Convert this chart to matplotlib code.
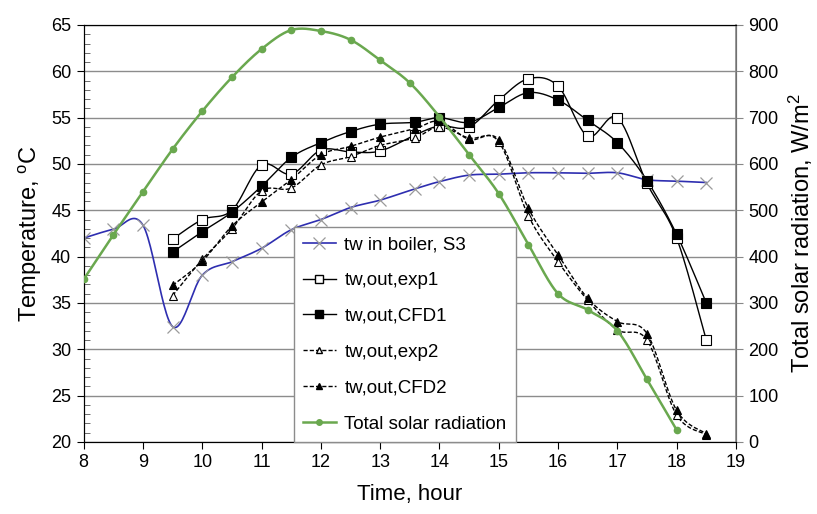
import numpy as np
import matplotlib.pyplot as plt
from matplotlib.lines import Line2D

plt.rcParams['font.family'] = ['Liberation Sans', 'DejaVu Sans']
plt.rcParams['mathtext.default'] = 'regular'

# time axis for the water temperature series (hour)
t_boiler = [8, 8.5, 9, 9.5, 10, 10.5, 11, 11.5, 12, 12.5, 13, 13.58, 14, 14.5,
            15, 15.5, 16, 16.5, 17, 17.5, 18, 18.5]
tw_boiler = [42.0, 42.95, 43.4, 32.45, 38.0, 39.45, 40.9, 42.9, 44.0, 45.3, 46.1, 47.3,
             48.1, 48.8, 48.9, 49.05, 49.05, 49.0, 49.05, 48.3, 48.15, 48.0]

t_out = [9.5, 10, 10.5, 11, 11.5, 12, 12.5, 13, 13.58, 14, 14.5, 15, 15.5, 16,
         16.5, 17, 17.5, 18, 18.5]
tw_exp1 = [41.9, 44.0, 45.0, 49.9, 48.9, 51.5, 51.3, 51.4, 53.1, 54.1, 54.0, 56.9,
           59.2, 58.4, 53.0, 55.0, 47.9, 42.0, 31.0]
tw_cfd1 = [40.5, 42.7, 44.8, 47.6, 50.7, 52.3, 53.5, 54.3, 54.5, 55.0, 54.5, 56.1,
           57.7, 56.9, 54.7, 52.3, 48.2, 42.4, 35.0]
tw_exp2 = [35.8, 39.7, 43.0, 47.1, 47.4, 49.9, 50.8, 52.0, 52.8, 54.0, 52.8, 52.4,
           44.4, 39.45, 35.3, 32.1, 31.0, 22.9, 20.8]
tw_cfd2 = [36.9, 39.5, 43.3, 45.9, 48.3, 51.0, 51.9, 52.9, 53.8, 54.6, 52.65, 52.6,
           45.2, 40.2, 35.5, 33.0, 31.7, 23.4, 20.9]

# total solar radiation (W/m2)
t_sun = [8, 8.5, 9, 9.5, 10, 10.5, 11, 11.5, 12, 12.5, 13, 13.5, 14, 14.5, 15,
         15.5, 16, 16.5, 17, 17.5, 18]
radiation = [351, 447, 540, 632, 714, 787, 848, 889, 887, 868, 824, 775, 702, 620,
             536, 426, 320, 285, 240, 135, 26]


def smooth(x, y, n=25):
    # excel style smoothed line (bezier through the points)
    p = np.column_stack([x, y]).astype(float)
    p = np.vstack([p[0], p, p[-1]])
    segs = []
    for i in range(1, len(p) - 2):
        p0, p1, p2, p3 = p[i - 1], p[i], p[i + 1], p[i + 2]
        c1 = p1 + (p2 - p0) / 6
        c2 = p2 - (p3 - p1) / 6
        s = np.linspace(0, 1, n)[:, None]
        seg = (1 - s)**3 * p1 + 3 * (1 - s)**2 * s * c1 + 3 * (1 - s) * s**2 * c2 + s**3 * p2
        segs.append(seg if i == 1 else seg[1:])
    seg = np.vstack(segs)
    return seg[:, 0], seg[:, 1]


fig = plt.figure(figsize=(8.17, 5.14), dpi=100)
ax = fig.add_axes([0.1024, 0.1401, 0.7984, 0.8113])
ax2 = ax.twinx()

blue = '#2e2eb0'
green = '#6aa84f'

ax.plot(*smooth(t_boiler, tw_boiler), color=blue, lw=1.2, zorder=3)
ax.plot(t_boiler, tw_boiler, ls='none', marker='x', ms=8, mew=0.9, color='#9a9a9a', zorder=4)

series = [
    (tw_exp1, '-', 's', 'white', 6.5),
    (tw_cfd1, '-', 's', 'black', 6.5),
    (tw_exp2, (0, (3, 1.5)), '^', 'white', 5.5),
    (tw_cfd2, (0, (3, 1.5)), '^', 'black', 5.5),
]
for vals, ls, mk, fc, ms in series:
    ax.plot(*smooth(t_out, vals), color='black', ls=ls, lw=1.0, zorder=3)
    ax.plot(t_out, vals, ls='none', marker=mk, ms=ms, mfc=fc, mec='black', mew=0.8, zorder=4)

ax2.plot(*smooth(t_sun, radiation), color=green, lw=1.8, zorder=3)
ax2.plot(t_sun, radiation, ls='none', marker='o', ms=4.5, color=green, zorder=4)

ax.set_xlim(8, 19)
ax.set_ylim(20, 65)
ax2.set_ylim(0, 900)
ax.set_xticks(range(8, 20))
ax.set_yticks(range(20, 66, 5))
ax.set_yticks(range(20, 66, 1), minor=True)
ax2.set_yticks(range(0, 901, 100))

ax.yaxis.grid(True, color='#8c8c8c', lw=1.0)
ax.set_axisbelow(True)

ax.tick_params(axis='both', which='major', direction='out', length=5, width=0.8,
               labelsize=13, pad=4)
ax.tick_params(axis='y', which='minor', direction='in', length=4, width=0.6, color='#555555')
ax.tick_params(axis='y', right=False)
ax2.tick_params(axis='y', direction='out', length=5, width=0.8, color='#888888',
                labelsize=13, pad=4)
for sp in ['left', 'bottom', 'top']:
    ax.spines[sp].set_color('black')
ax2.spines['right'].set_color('#888888')
ax2.spines['right'].set_linewidth(1.2)

ax.set_xlabel('Time, hour', fontsize=16, labelpad=9)
ax.set_ylabel('Temperature, $^{o}$C', fontsize=17, labelpad=5)
ax2.set_ylabel('Total solar radiation, W/m$^{2}$', fontsize=17, labelpad=6)

dash = (0, (3, 1.5))
handles = [
    Line2D([], [], color=blue, lw=1.2, marker='x', ms=8, mec='#9a9a9a', mew=0.9),
    Line2D([], [], color='black', lw=1.0, marker='s', ms=5.5, mfc='white', mec='black'),
    Line2D([], [], color='black', lw=1.0, marker='s', ms=5.5, mfc='black', mec='black'),
    Line2D([], [], color='black', lw=1.0, ls=dash, marker='^', ms=5, mfc='white', mec='black'),
    Line2D([], [], color='black', lw=1.0, ls=dash, marker='^', ms=5, mfc='black', mec='black'),
    Line2D([], [], color=green, lw=1.8, marker='o', ms=4),
]
labels = ['tw in boiler, S3', 'tw,out,exp1', 'tw,out,CFD1', 'tw,out,exp2',
          'tw,out,CFD2', 'Total solar radiation']
leg = ax2.legend(handles, labels, loc='lower left', bbox_to_anchor=(0.322, 0.0),
                 fontsize=13.5, frameon=True, fancybox=False, framealpha=1,
                 edgecolor='#8c8c8c', handlelength=1.75, handletextpad=0.45,
                 labelspacing=1.0, borderpad=0.5, borderaxespad=0)
leg.get_frame().set_linewidth(1.0)
leg.set_zorder(10)

fig.savefig('out.png', dpi=100)
